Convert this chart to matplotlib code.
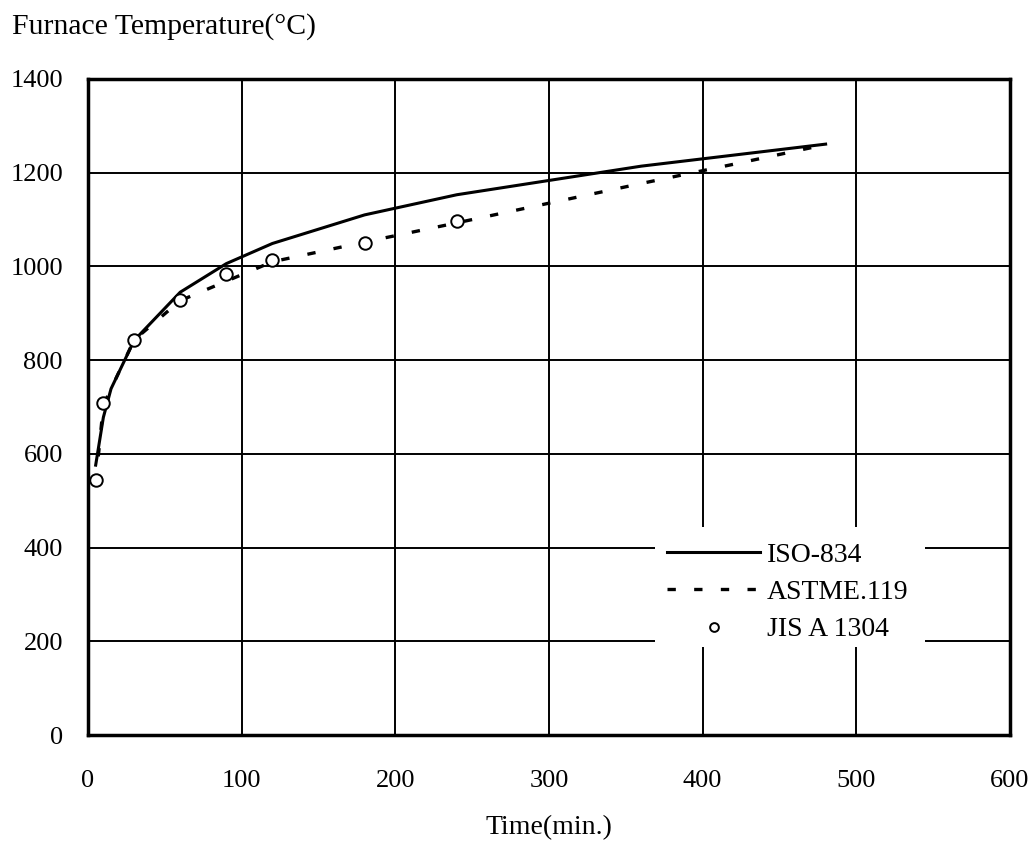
import matplotlib
matplotlib.use("Agg")
import matplotlib.pyplot as plt
from matplotlib.patches import Rectangle

plt.rcParams['font.family'] = ['Liberation Serif', 'DejaVu Serif']
plt.rcParams['font.size'] = 19

# ISO-834 标准升温曲线
iso_t = [5, 10, 15, 30, 60, 90, 120, 180, 240, 360, 480]
iso_T = [576, 678, 739, 842, 945, 1006, 1049, 1110, 1153, 1214, 1261]

# ASTM E119
astm_t = [5, 10, 30, 60, 120, 180, 240, 300, 360, 420, 480]
astm_T = [538, 704, 843, 927, 1010, 1052, 1093, 1135, 1177, 1218, 1260]

# JIS A 1304
jis_t = [5, 10, 30, 60, 90, 120, 180, 240]
jis_T = [544, 708, 843, 929, 983, 1013, 1051, 1097]

fig = plt.figure(figsize=(10.34, 8.44), dpi=100)
ax = fig.add_axes([0.0851, 0.1291, 0.8917, 0.7773])

ax.plot(iso_t, iso_T, color='black', lw=2.2, label='ISO-834', zorder=3)
ax.plot(astm_t, astm_T, color='black', lw=2.4, dashes=(2.5, 5.5), label='ASTME.119', zorder=3)
ax.plot(jis_t, jis_T, ls='none', marker='o', ms=9, mfc='white', mec='black', mew=1.4,
        label='JIS A 1304', zorder=4)

ax.set_xlim(0, 600)
ax.set_ylim(0, 1400)
ax.set_xticks(range(0, 601, 100))
ax.set_yticks(range(0, 1401, 200))
ax.grid(True, color='black', lw=1.4)
ax.set_axisbelow(True)
ax.tick_params(axis='x', length=0, pad=25)
ax.tick_params(axis='y', length=0, pad=18)
for s in ax.spines.values():
    s.set_linewidth(2.5)

# 图例背景：遮住网格线
ax.add_patch(Rectangle((0.615, 0.134), 0.293, 0.183, transform=ax.transAxes,
                       facecolor='white', edgecolor='none', zorder=1))
ax.legend(loc='upper left', bbox_to_anchor=(0.628, 0.294), frameon=False,
          handlelength=3.35, handletextpad=0.25, labelspacing=0.43,
          borderpad=0, borderaxespad=0, fontsize=20, markerscale=0.7)

fig.text(0.012, 0.968, 'Furnace Temperature(°C)', fontsize=21.4, va='center', ha='left')
fig.text(0.531, 0.019, 'Time(min.)', fontsize=20, va='center', ha='center')

fig.savefig('out.png', dpi=100)
